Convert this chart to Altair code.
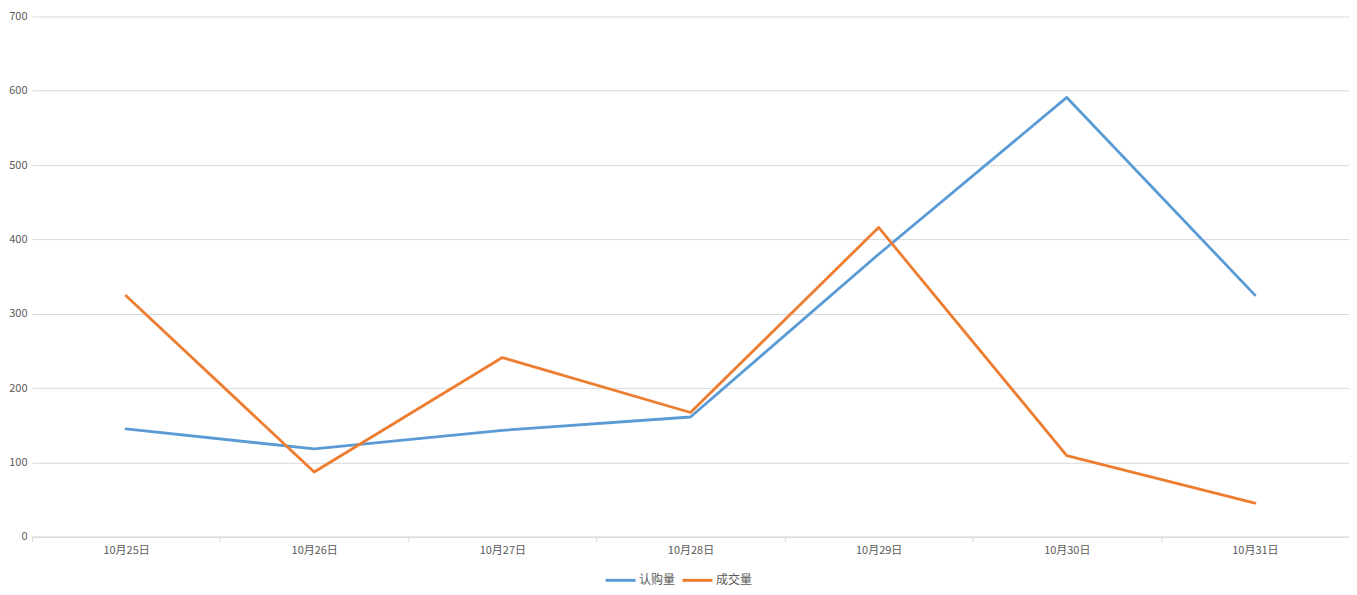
import altair as alt
import pandas as pd

dates = ["10月25日", "10月26日", "10月27日", "10月28日", "10月29日", "10月30日", "10月31日"]
subscribe = [145, 118, 143, 161, 380, 591, 325]
deals = [324, 87, 241, 167, 416, 109, 45]
series_names = ["认购量", "成交量"]
colors = ["#5B9BD5", "#ED7D31"]
y_ticks = [0, 100, 200, 300, 400, 500, 600, 700]

rows = []
for d, a, b in zip(dates, subscribe, deals):
    rows.append({"date": d, "series": series_names[0], "value": a})
    rows.append({"date": d, "series": series_names[1], "value": b})
df = pd.DataFrame(rows)

font = "Noto Sans CJK SC"

chart = alt.Chart(df).mark_line(strokeWidth=2.8, strokeCap="round", strokeJoin="round").encode(
    x=alt.X("date:N", sort=dates, bandPosition=0.5,
            scale=alt.Scale(type="band", paddingInner=0, paddingOuter=0),
            axis=alt.Axis(title=None, labelAngle=0, tickBand="extent", grid=False,
                          domainColor="#D9D9D9", tickColor="#D9D9D9", tickSize=5,
                          labelColor="#595959", labelFont=font, labelFontSize=11,
                          labelPadding=3)),
    y=alt.Y("value:Q", scale=alt.Scale(domain=[0, 700], nice=False),
            axis=alt.Axis(title=None, values=y_ticks, domain=False, ticks=False,
                          gridColor="#D9D9D9", labelColor="#595959", labelFont=font,
                          labelFontSize=11, labelPadding=5)),
    color=alt.Color("series:N", sort=series_names,
                    scale=alt.Scale(domain=series_names, range=colors),
                    legend=alt.Legend(title=None, orient="none", direction="horizontal",
                                      legendX=573, legendY=548, symbolType="stroke",
                                      symbolSize=900, symbolStrokeWidth=3,
                                      labelFont=font, labelFontSize=12, labelColor="#595959",
                                      columnPadding=0, labelOffset=2, padding=0)),
).properties(
    width=1319, height=521,
    padding={"left": 24, "top": 8, "right": 0, "bottom": 50},
    autosize=alt.AutoSizeParams(type="none"),
).configure_view(stroke=None)

chart.save("out.html", embed_options={"renderer": "svg", "actions": False})
